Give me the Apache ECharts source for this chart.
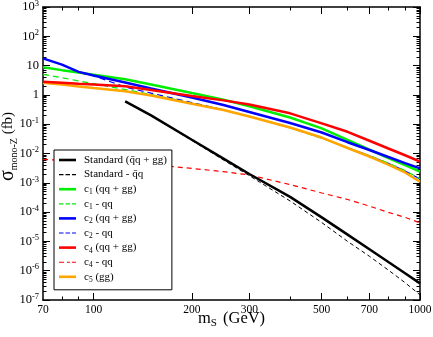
<!DOCTYPE html>
<html>
<head>
<meta charset="utf-8">
<script src="https://cdn.jsdelivr.net/npm/echarts@6/dist/echarts.min.js"></script>
<style>
  html, body { margin: 0; padding: 0; background: #fff; }
  #chart { width: 433px; height: 337px; }
</style>
</head>
<body>
<div id="chart"></div>
<script>
// scalar mass points (GeV)
const masses = [70, 80, 90, 100, 125, 150, 200, 250, 300, 400, 500, 600, 700, 800, 900, 1000];

// cross sections (fb)
const stdTotal = [null, null, null, null, 0.6, 0.2, 0.0295, 0.0067, 0.002, 3.3e-4, 6.6e-5, 1.7e-5, 5.4e-6, 1.98e-6, 8.2e-7, 3.7e-7];
const stdQq = [null, null, null, null, 0.6, 0.195, 0.028, 0.006, 0.00175, 2.4e-4, 4.4e-5, 1.0e-5, 3.1e-6, 1.05e-6, 3.9e-7, 1.5e-7];
const c1Total = [8.75, 7.0, 5.8, 4.9, 3.4, 2.28, 1.16, 0.69, 0.41, 0.17, 0.072, 0.029, 0.0135, 0.007, 0.00405, 0.0024];
const c1Qq = [5.05, 3.84, 3.0, 2.41, 1.53, 1.03, 0.52, 0.305, 0.183, 0.075, 0.033, 0.016, 0.0085, 0.0047, 0.0026, 0.0014];
const c2Total = [17.7, 10.8, 6.1, 4.6, 2.65, 1.66, 0.81, 0.45, 0.26, 0.11, 0.052, 0.0243, 0.0132, 0.0076, 0.0047, 0.0031];
const c2Qq = [17.7, 10.8, 6.1, 4.5, 1.85, 1.15, 0.55, 0.31, 0.185, 0.076, 0.034, 0.0158, 0.0083, 0.0046, 0.00255, 0.00135];
const c4Total = [2.82, 2.59, 2.39, 2.25, 1.97, 1.48, 0.92, 0.65, 0.47, 0.235, 0.107, 0.055, 0.0273, 0.0148, 0.0087, 0.00525];
const c4Qq = [6.3e-3, 5.9e-3, 5.7e-3, 5.5e-3, 4.8e-3, 4.2e-3, 3.1e-3, 2.4e-3, 1.85e-3, 8.7e-4, 4.5e-4, 2.7e-4, 1.6e-4, 9.8e-5, 6.6e-5, 4.3e-5];
const c5Gg = [2.61, 2.25, 1.95, 1.71, 1.34, 0.955, 0.50, 0.305, 0.183, 0.077, 0.035, 0.0154, 0.0079, 0.0042, 0.00225, 0.00109];

// ticks
const xLabelTicks = [70, 100, 200, 300, 500, 700, 1000];
const xMajorTicks = [100, 200, 300, 500, 700, 1000];
const xMinorTicks = [80, 90, 400, 600, 800, 900];
const yDecades = [1e-7, 1e-6, 1e-5, 1e-4, 1e-3, 1e-2, 1e-1, 1, 10, 100, 1000];
const yMinorTicks = [];
yDecades.slice(0, -1).forEach(d => {
  for (let k = 2; k <= 9; k++) yMinorTicks.push(d * k);
});

const serif = 'Liberation Serif';

// 图例名称 (富文本下标)
const legendText = {
  'std': '{n|Standard (q\u0304q + gg)}',
  'stdq': '{n|Standard - q\u0304q}',
  'c1': '{n|c}{s|1}{n| (qq + gg)}',
  'c1q': '{n|c}{s|1}{n| - qq}',
  'c2': '{n|c}{s|2}{n| (qq + gg)}',
  'c2q': '{n|c}{s|2}{n| - qq}',
  'c4': '{n|c}{s|4}{n| (qq + gg)}',
  'c4q': '{n|c}{s|4}{n| - qq}',
  'c5': '{n|c}{s|5}{n| (gg)}'
};

// legend icons: thick bar for solid, thin dashes for dashed
const solidIcon = 'path://M0,0h17v2.6h-17z';
const dashIcon = 'path://M0,0M17,2.6M0,0.8h4.5v1.1h-4.5zM6.5,0.8h4.5v1.1h-4.5zM13,0.8h4v1.1h-4z';
const dotDashIcon = 'path://M0,0M17,2.6M0,0.8h5v1.1h-5zM8,0.8h3v1.1h-3zM13,0.8h4v1.1h-4z';

function pairs(vals) {
  const out = [];
  masses.forEach((m, i) => { if (vals[i] != null) out.push([m, vals[i]]); });
  return out;
}

function line(name, vals, color, width, dash, z) {
  return {
    name: name,
    type: 'line',
    data: pairs(vals),
    symbol: 'none',
    z: z,
    lineStyle: { color: color, width: width, type: dash || 'solid' },
    itemStyle: { color: color },
    emphasis: { disabled: true }
  };
}

function xAxisOf(position, ticks, len, withLine, withLabel) {
  return {
    type: 'log', logBase: 10, min: 70, max: 1000, position: position,
    splitLine: { show: false },
    axisLine: { show: withLine, onZero: false, lineStyle: { color: '#000', width: 1.5 } },
    axisTick: { show: true, inside: true, length: len, customValues: ticks, lineStyle: { color: '#000', width: 1 } },
    axisLabel: withLabel ? {
      show: true, customValues: xLabelTicks, margin: 4,
      fontFamily: serif, fontSize: 11.5, color: '#000',
      formatter: v => String(Math.round(v))
    } : { show: false },
    name: withLabel ? '{n|m}{s|S}{n| (GeV)}' : '',
    nameLocation: 'middle', nameGap: 9, nameMoveOverlap: false,
    nameTextStyle: {
      fontFamily: serif, color: '#000',
      rich: {
        n: { fontFamily: serif, fontSize: 16.5, color: '#000', lineHeight: 20 },
        s: { fontFamily: serif, fontSize: 11, color: '#000', verticalAlign: 'bottom', lineHeight: 11, padding: [0, 2, 0, 0] }
      }
    }
  };
}

function yAxisOf(position, ticks, len, withLine, withLabel) {
  return {
    type: 'log', logBase: 10, min: 1e-7, max: 1000, position: position,
    splitLine: { show: false },
    axisLine: { show: withLine, onZero: false, lineStyle: { color: '#000', width: 1.5 } },
    axisTick: { show: true, inside: true, length: len, customValues: ticks, lineStyle: { color: '#000', width: 1 } },
    axisLabel: withLabel ? {
      show: true, customValues: yDecades, margin: 4,
      fontFamily: serif, fontSize: 12, color: '#000',
      formatter: v => {
        const e = Math.round(Math.log10(v));
        if (e === 0) return '{b|1}';
        if (e === 1) return '{b|10}';
        return '{b|10}{p|' + e + '}';
      },
      rich: {
        b: { fontFamily: serif, fontSize: 12.5, color: '#000', lineHeight: 16 },
        p: { fontFamily: serif, fontSize: 8.5, color: '#000', verticalAlign: 'top', lineHeight: 9 }
      }
    } : { show: false },
    name: withLabel ? '{g|\u03c3}{s|mono-Z}{n| (fb)}' : '',
    nameLocation: 'middle', nameGap: 24, nameRotate: 90, nameMoveOverlap: false,
    nameTextStyle: {
      fontFamily: serif, color: '#000', padding: [0, 0, 0, 14],
      rich: {
        g: { fontFamily: serif, fontSize: 20, color: '#000', lineHeight: 22 },
        n: { fontFamily: serif, fontSize: 15, color: '#000', lineHeight: 22 },
        s: { fontFamily: serif, fontSize: 10, color: '#000', verticalAlign: 'bottom', lineHeight: 10 }
      }
    }
  };
}

const chart = echarts.init(document.getElementById('chart'));
chart.setOption({
  animation: false,
  backgroundColor: '#fff',
  grid: { left: 43, right: 13, top: 7, bottom: 37, outerBoundsMode: 'none', containLabel: false },
  xAxis: [
    xAxisOf('bottom', xMajorTicks, 7, true, true),
    xAxisOf('bottom', xMinorTicks, 3.5, false, false),
    xAxisOf('top', xMajorTicks, 7, true, false),
    xAxisOf('top', xMinorTicks, 3.5, false, false)
  ],
  yAxis: [
    yAxisOf('left', yDecades, 7, true, true),
    yAxisOf('left', yMinorTicks, 3.5, false, false),
    yAxisOf('right', yDecades, 7, true, false),
    yAxisOf('right', yMinorTicks, 3.5, false, false)
  ],
  legend: {
    orient: 'vertical',
    left: 54, top: 150,
    itemWidth: 17, itemHeight: 2.6, itemGap: 0.6,
    padding: [3, 5, 6, 5],
    borderColor: '#000', borderWidth: 1, borderRadius: 0,
    backgroundColor: '#fff',
    selectedMode: false,
    data: [
      { name: 'std', icon: solidIcon },
      { name: 'stdq', icon: dashIcon },
      { name: 'c1', icon: solidIcon },
      { name: 'c1q', icon: dashIcon },
      { name: 'c2', icon: solidIcon },
      { name: 'c2q', icon: dashIcon },
      { name: 'c4', icon: solidIcon },
      { name: 'c4q', icon: dotDashIcon },
      { name: 'c5', icon: solidIcon }
    ],
    formatter: name => legendText[name],
    textStyle: {
      fontFamily: serif, fontSize: 11, color: '#000', padding: [0, 0, 0, 3], lineHeight: 14,
      rich: {
        n: { fontFamily: serif, fontSize: 11, color: '#000', lineHeight: 14 },
        s: { fontFamily: serif, fontSize: 7.5, color: '#000', verticalAlign: 'bottom', lineHeight: 8 }
      }
    }
  },
  series: [
    line('std', stdTotal, '#000000', 2.5, 'solid', 9),
    line('stdq', stdQq, '#000000', 1, [4, 3], 8),
    line('c1', c1Total, '#00ee00', 2.5, 'solid', 5),
    line('c1q', c1Qq, '#00ee00', 1.2, [6, 4], 4),
    line('c2', c2Total, '#0000ff', 2.5, 'solid', 6),
    line('c2q', c2Qq, '#0000ff', 1.2, [6, 4], 3),
    line('c4', c4Total, '#ff0000', 2.5, 'solid', 7),
    line('c4q', c4Qq, '#ff0000', 1.2, [5, 4], 2),
    line('c5', c5Gg, '#ffa500', 2.5, 'solid', 5)
  ]
});
</script>
</body>
</html>
